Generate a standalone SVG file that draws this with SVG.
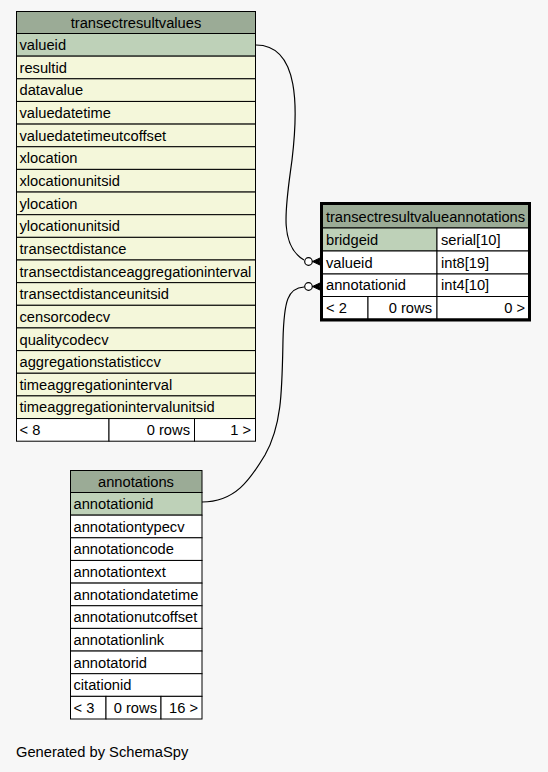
<svg xmlns="http://www.w3.org/2000/svg" width="548" height="772" viewBox="0 0 548 772">
<style>
text{font-family:"Liberation Sans",Arial,sans-serif;font-size:14.7px;fill:#000}
.h{fill:#9bab96;stroke:#000;stroke-width:1}
.k{fill:#bed1b8;stroke:#000;stroke-width:1}
.r{fill:#f4f7da;stroke:#000;stroke-width:1}
.w{fill:#ffffff;stroke:#000;stroke-width:1}
.c{text-anchor:middle}
.e{text-anchor:end}
.edge{fill:none;stroke:#000;stroke-width:1.2}
.dot{fill:#fff;stroke:#000;stroke-width:1.2}
.crow{fill:#000;stroke:#000;stroke-width:1}
</style>
<rect width="548" height="772" fill="#f7f7f7"/>

<g id="transectresultvalues">
<rect class="h" x="16.5" y="11.5" width="239" height="22"/>
<text class="c" x="136" y="28">transectresultvalues</text>
<rect class="k" x="16.5" y="33.5" width="239" height="22.65"/>
<text x="19.5" y="50">valueid</text>
<rect class="r" x="16.5" y="56.15" width="239" height="22.65"/>
<text x="19.5" y="72.7">resultid</text>
<rect class="r" x="16.5" y="78.8" width="239" height="22.65"/>
<text x="19.5" y="95.3">datavalue</text>
<rect class="r" x="16.5" y="101.45" width="239" height="22.65"/>
<text x="19.5" y="118">valuedatetime</text>
<rect class="r" x="16.5" y="124.1" width="239" height="22.65"/>
<text x="19.5" y="140.6">valuedatetimeutcoffset</text>
<rect class="r" x="16.5" y="146.75" width="239" height="22.65"/>
<text x="19.5" y="163.3">xlocation</text>
<rect class="r" x="16.5" y="169.4" width="239" height="22.65"/>
<text x="19.5" y="185.9">xlocationunitsid</text>
<rect class="r" x="16.5" y="192.05" width="239" height="22.65"/>
<text x="19.5" y="208.6">ylocation</text>
<rect class="r" x="16.5" y="214.7" width="239" height="22.65"/>
<text x="19.5" y="231.2">ylocationunitsid</text>
<rect class="r" x="16.5" y="237.35" width="239" height="22.65"/>
<text x="19.5" y="253.9">transectdistance</text>
<rect class="r" x="16.5" y="260" width="239" height="22.65"/>
<text x="19.5" y="276.5">transectdistanceaggregationinterval</text>
<rect class="r" x="16.5" y="282.65" width="239" height="22.65"/>
<text x="19.5" y="299.2">transectdistanceunitsid</text>
<rect class="r" x="16.5" y="305.3" width="239" height="22.65"/>
<text x="19.5" y="321.8">censorcodecv</text>
<rect class="r" x="16.5" y="327.95" width="239" height="22.65"/>
<text x="19.5" y="344.5">qualitycodecv</text>
<rect class="r" x="16.5" y="350.6" width="239" height="22.65"/>
<text x="19.5" y="367.1">aggregationstatisticcv</text>
<rect class="r" x="16.5" y="373.25" width="239" height="22.65"/>
<text x="19.5" y="389.8">timeaggregationinterval</text>
<rect class="r" x="16.5" y="395.9" width="239" height="22.65"/>
<text x="19.5" y="412.4">timeaggregationintervalunitsid</text>
<rect class="w" x="16.5" y="418.55" width="92.5" height="22.65"/>
<rect class="w" x="109" y="418.55" width="85.5" height="22.65"/>
<rect class="w" x="194.5" y="418.55" width="61" height="22.65"/>
<text x="19.5" y="435">&lt; 8</text>
<text class="e" x="190" y="435">0 rows</text>
<text class="e" x="251" y="435">1 &gt;</text>
</g>

<g id="transectresultvalueannotations">
<rect class="h" x="322.5" y="204.5" width="206" height="23.5"/>
<text class="c" x="425.5" y="222">transectresultvalueannotations</text>
<rect class="k" x="322.5" y="228" width="114.5" height="23"/>
<rect class="w" x="437" y="228" width="91.5" height="23"/>
<text x="326" y="244.5">bridgeid</text>
<text x="441" y="244.5">serial[10]</text>
<rect class="w" x="322.5" y="251" width="114.5" height="23"/>
<rect class="w" x="437" y="251" width="91.5" height="23"/>
<text x="326" y="267.5">valueid</text>
<text x="441" y="267.5">int8[19]</text>
<rect class="w" x="322.5" y="274" width="114.5" height="22.5"/>
<rect class="w" x="437" y="274" width="91.5" height="22.5"/>
<text x="326" y="290">annotationid</text>
<text x="441" y="290">int4[10]</text>
<rect class="w" x="322.5" y="296.5" width="45.5" height="22.5"/>
<rect class="w" x="368" y="296.5" width="69" height="22.5"/>
<rect class="w" x="437" y="296.5" width="91.5" height="22.5"/>
<text x="326" y="313">&lt; 2</text>
<text class="e" x="432" y="313">0 rows</text>
<text class="e" x="525" y="313">0 &gt;</text>
<rect x="321.5" y="203.5" width="208" height="116.5" fill="none" stroke="#000" stroke-width="3"/>
</g>

<g id="annotations">
<rect class="h" x="70.5" y="470.5" width="131.5" height="22"/>
<text class="c" x="136" y="487">annotations</text>
<rect class="k" x="70.5" y="492.5" width="131.5" height="22.65"/>
<text x="73.5" y="509">annotationid</text>
<rect class="w" x="70.5" y="515.15" width="131.5" height="22.65"/>
<text x="73.5" y="531.7">annotationtypecv</text>
<rect class="w" x="70.5" y="537.8" width="131.5" height="22.65"/>
<text x="73.5" y="554.3">annotationcode</text>
<rect class="w" x="70.5" y="560.45" width="131.5" height="22.65"/>
<text x="73.5" y="577">annotationtext</text>
<rect class="w" x="70.5" y="583.1" width="131.5" height="22.65"/>
<text x="73.5" y="599.6">annotationdatetime</text>
<rect class="w" x="70.5" y="605.75" width="131.5" height="22.65"/>
<text x="73.5" y="622.3">annotationutcoffset</text>
<rect class="w" x="70.5" y="628.4" width="131.5" height="22.65"/>
<text x="73.5" y="644.9">annotationlink</text>
<rect class="w" x="70.5" y="651.05" width="131.5" height="22.65"/>
<text x="73.5" y="667.6">annotatorid</text>
<rect class="w" x="70.5" y="673.7" width="131.5" height="22.65"/>
<text x="73.5" y="690.2">citationid</text>
<rect class="w" x="70.5" y="696.35" width="35.5" height="22.65"/>
<rect class="w" x="106" y="696.35" width="55" height="22.65"/>
<rect class="w" x="161" y="696.35" width="41" height="22.65"/>
<text x="73.5" y="712.9">&lt; 3</text>
<text class="e" x="157" y="712.9">0 rows</text>
<text class="e" x="198" y="712.9">16 &gt;</text>
</g>

<g id="connectors">
<path class="edge" d="M256,45 C300,45 298,110 292,160 C286,205 278,245 304,260"/>
<circle class="dot" cx="308.5" cy="261.5" r="3.8"/>
<path class="crow" d="M312.5,261.5 L321,257.5 L319.5,261.5 L321,265.5 Z"/>
<path class="edge" d="M202,502 C235,502 250,480 265,455 C282,425 282,390 283,340 C284,300 288,288 304,287"/>
<circle class="dot" cx="308.5" cy="286.5" r="3.8"/>
<path class="crow" d="M312.5,286.5 L321,282.5 L319.5,286.5 L321,290.5 Z"/>
</g>

<text x="16" y="757">Generated by SchemaSpy</text>
</svg>
